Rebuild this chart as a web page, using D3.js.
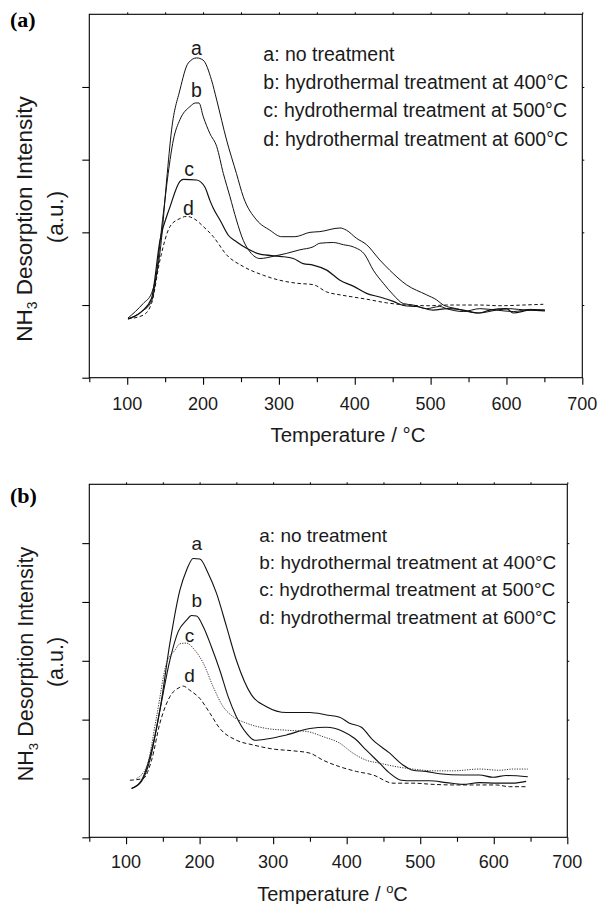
<!DOCTYPE html>
<html><head><meta charset="utf-8">
<script src="https://cdn.jsdelivr.net/npm/d3@7"></script>
<style>body{margin:0;background:#fff} svg{display:block}</style>
</head><body>
<svg id="chart" width="598" height="904"></svg>
<script>
// ---------- data ----------
const xTickValues = [100, 200, 300, 400, 500, 600, 700];
const xMinorValues = [150, 250, 350, 450, 550, 650];
const seriesNames = ["a", "b", "c", "d"];
const legendLabels = [
  "a: no treatment",
  "b: hydrothermal treatment at 400\u00B0C",
  "c: hydrothermal treatment at 500\u00B0C",
  "d: hydrothermal treatment at 600\u00B0C"
];

// Panel (a): [temperature °C, intensity a.u.]
const panelA_a = [[101,0.82],[121,1.02],[132,1.16],[145,1.89],[152,2.72],[158.5,3.41],[169.5,3.96],[180.5,4.33],[191.5,4.40],[200,4.37],[211,4.10],[218,3.82],[231,3.27],[244,2.81],[253,2.49],[270.6,2.17],[288,2.03],[303.6,1.94],[321,1.94],[341,2.00],[354,2.01],[380.5,2.06],[389,2.03],[402,1.92],[415.6,1.83],[433,1.62],[446,1.48],[468,1.28],[494.7,1.14],[508,1.07],[516.7,1.00],[534,0.95],[563,0.89],[587,0.93],[604.6,0.95],[626.6,0.93],[650.7,0.93]];
const panelA_b = [[101,0.81],[119,0.91],[132,1.05],[147.6,2.26],[154,2.81],[160.8,3.27],[169.5,3.55],[182.7,3.73],[190,3.78],[194.6,3.78],[200.3,3.59],[209,3.36],[218,3.18],[226.7,2.81],[235.5,2.49],[244,2.17],[253,1.89],[262,1.73],[275,1.64],[292.6,1.67],[310,1.71],[327.7,1.76],[345,1.80],[354,1.85],[371.7,1.86],[385,1.83],[398,1.80],[413.4,1.69],[424.4,1.48],[437.6,1.30],[450.8,1.14],[464,1.02],[477,1.00],[494.7,0.95],[512,0.98],[521,0.95],[543,0.91],[565,0.95],[587,0.93],[609,0.91],[631,0.94],[650.7,0.93]];
const panelA_c = [[101,0.81],[119,0.91],[132,1.09],[143.2,1.89],[156.4,2.35],[169.5,2.70],[174,2.73],[191.5,2.72],[202.5,2.62],[209,2.44],[213.5,2.33],[222.3,2.17],[233.3,1.96],[244,1.87],[257.4,1.78],[275,1.70],[301.4,1.67],[319,1.64],[332,1.57],[345,1.55],[363,1.48],[380.5,1.34],[398,1.26],[415.6,1.16],[433,1.11],[450.8,1.05],[466,0.99],[481.5,0.98],[503.5,0.93],[521,0.95],[543,0.93],[563,0.89],[578,0.93],[600,0.95],[609,0.89],[631,0.93],[650.7,0.92]];
const panelA_d = [[101,0.81],[121,0.86],[132,1.02],[143.2,1.62],[156.4,2.08],[169.5,2.19],[178.3,2.22],[189.3,2.18],[200.3,2.08],[213.5,1.94],[231,1.69],[253,1.53],[279.4,1.41],[301.4,1.34],[323.3,1.30],[345.3,1.28],[363,1.18],[380.5,1.14],[398,1.11],[415.6,1.08],[442,1.03],[468.4,1.00],[499,0.99],[521,1.00],[543,1.00],[565,1.00],[591.4,0.99],[622,1.00],[648.6,1.01]];

// Panel (b)
const panelB_a = [[107.5,0.83],[121,0.97],[132.4,1.37],[146,2.16],[159.6,3.30],[173.2,4.20],[182.2,4.54],[191.3,4.74],[200.3,4.73],[211.6,4.49],[222.9,4.15],[236.6,3.58],[250,3.01],[270.5,2.42],[291,2.22],[318,2.12],[350,2.12],[372.4,2.08],[390.5,2.04],[404,1.94],[420,1.87],[435.8,1.65],[458.5,1.43],[476.5,1.23],[490,1.14],[508,1.12],[526,1.08],[558,1.06],[580.7,1.06],[598.8,1.02],[617,1.05],[646.3,1.03]];
const panelB_b = [[107.5,0.83],[121,0.95],[132.4,1.31],[146,2.16],[159.6,3.01],[171,3.50],[182.2,3.69],[189,3.77],[195.8,3.76],[205,3.58],[216,3.24],[227.5,2.84],[238.8,2.39],[250,2.05],[263.7,1.77],[275,1.65],[291,1.67],[318,1.74],[350,1.85],[372.4,1.87],[395,1.80],[411,1.68],[426.7,1.48],[444.8,1.26],[458.5,1.09],[474.3,0.97],[490,0.96],[512.7,0.96],[535.4,0.93],[558,0.90],[580.7,0.93],[603.3,0.92],[626,0.92],[644,0.95]];
const panelB_c = [[114.3,1.00],[128,1.20],[141.5,2.05],[155,2.96],[166.4,3.18],[173.2,3.29],[182.2,3.30],[193.5,3.18],[205,2.96],[218.4,2.56],[232,2.22],[245.6,2.05],[263.7,1.94],[291,1.85],[318,1.82],[345,1.80],[368,1.71],[390.5,1.60],[408.6,1.43],[426.7,1.31],[444.8,1.26],[467.5,1.20],[490,1.16],[517.3,1.13],[544.5,1.13],[580.7,1.16],[607.8,1.14],[626,1.16],[646.3,1.16]];
const panelB_d = [[105.2,0.97],[123.4,1.00],[134.7,1.31],[146,1.94],[159.6,2.39],[173.2,2.55],[177.7,2.57],[186.7,2.50],[200.3,2.36],[214,2.11],[227.5,1.85],[250,1.65],[272.8,1.57],[300,1.50],[327,1.47],[350,1.43],[368,1.31],[390.5,1.20],[413,1.12],[435.8,1.06],[463,0.92],[490,0.92],[517.3,0.90],[544.5,0.89],[571.6,0.89],[603.3,0.89],[621.4,0.86],[646.3,0.86]];

// ---------- drawing ----------
const svg = d3.select("#chart");
const SANS = "'Liberation Sans', Arial, Helvetica, sans-serif";
const INK = "#1a1a1a";

const panels = [
  {
    tag: "(a)", tagX: 10, tagY: 27,
    left: 89.3, right: 582.3, top: 14.3, bottom: 377.7, yMax: 5, yTicks: [0,1,2,3,4],
    series: [panelA_a, panelA_b, panelA_c, panelA_d],
    styles: [
      {dash: null, color: "#111", w: 1},
      {dash: null, color: "#111", w: 1},
      {dash: null, color: "#111", w: 1.2},
      {dash: "3.5,2.5", color: "#111", w: 1}
    ],
    labels: [[196.5,55],[196.5,96.5],[189,176],[188.5,215]],
    labelSize: 19.5,
    legendX: 263.3, legendY: 61, legendStep: 28.2, legendSize: 19.5,
    tickLabelY: 410, tickSize: 18,
    xTitleX: 348, xTitleY: 441.5, xTitleSize: 20.5, superO: false,
    yTitleX1: 32, yTitleX2: 63, yTitleCY: 219, yTitleSize: 22.5
  },
  {
    tag: "(b)", tagX: 10, tagY: 503,
    left: 89.3, right: 567.3, top: 484.3, bottom: 837.3, yMax: 6, yTicks: [0,1,2,3,4,5],
    series: [panelB_a, panelB_b, panelB_c, panelB_d],
    styles: [
      {dash: null, color: "#111", w: 1.1},
      {dash: null, color: "#111", w: 1.1},
      {dash: "1.2,1.3", color: "#333", w: 1},
      {dash: "4,2.5", color: "#111", w: 1}
    ],
    labels: [[196.7,550],[196.7,606.5],[189.5,641.5],[189.5,681.5]],
    labelSize: 19,
    legendX: 259.3, legendY: 542, legendStep: 27.2, legendSize: 19,
    tickLabelY: 868.3, tickSize: 18,
    xTitleX: 332.5, xTitleY: 901, xTitleSize: 20, superO: true,
    yTitleX1: 33, yTitleX2: 63, yTitleCY: 664, yTitleSize: 21.5
  }
];

panels.forEach(p => {
  const g = svg.append("g");
  const x = d3.scaleLinear().domain([50, 700]).range([p.left, p.right]);
  const y = d3.scaleLinear().domain([0, p.yMax]).range([p.bottom, p.top]);

  // frame
  g.append("rect")
    .attr("x", p.left).attr("y", p.top)
    .attr("width", p.right - p.left).attr("height", p.bottom - p.top)
    .attr("fill", "none").attr("stroke", "#000").attr("stroke-width", 1.1);

  // bottom axis majors
  const bAxis = g.append("g").attr("transform", `translate(0,${p.bottom})`)
    .call(d3.axisBottom(x).tickValues(xTickValues).tickSize(7).tickSizeOuter(0).tickFormat(""));
  bAxis.select(".domain").remove();
  bAxis.selectAll("line").attr("stroke", "#000").attr("stroke-width", 1.1);
  // tick labels
  g.selectAll(".xlab").data(xTickValues).enter().append("text")
    .attr("x", d => x(d)).attr("y", p.tickLabelY)
    .attr("text-anchor", "middle").attr("font-family", SANS).attr("font-size", p.tickSize)
    .attr("fill", INK).text(d => d);
  // bottom minor
  const bMinor = g.append("g").attr("transform", `translate(0,${p.bottom})`)
    .call(d3.axisBottom(x).tickValues(xMinorValues.concat([50])).tickSize(4.5).tickSizeOuter(0).tickFormat(""));
  bMinor.select(".domain").remove();
  bMinor.selectAll("line").attr("stroke", "#000").attr("stroke-width", 1.1);
  // top ticks (small, outward)
  const tAxis = g.append("g").attr("transform", `translate(0,${p.top})`)
    .call(d3.axisTop(x).tickValues(xTickValues.concat(xMinorValues)).tickSize(2).tickSizeOuter(0).tickFormat(""));
  tAxis.select(".domain").remove();
  tAxis.selectAll("line").attr("stroke", "#000");

  // left ticks
  const lAxis = g.append("g").attr("transform", `translate(${p.left},0)`)
    .call(d3.axisLeft(y).tickValues(p.yTicks).tickSize(7).tickSizeOuter(0).tickFormat(""));
  lAxis.select(".domain").remove();
  lAxis.selectAll("line").attr("stroke", "#000").attr("stroke-width", 1.1);
  // right ticks
  const rAxis = g.append("g").attr("transform", `translate(${p.right},0)`)
    .call(d3.axisRight(y).tickValues(p.yTicks.filter(v => v > 0)).tickSize(2).tickSizeOuter(0).tickFormat(""));
  rAxis.select(".domain").remove();
  rAxis.selectAll("line").attr("stroke", "#000");

  // curves
  const line = d3.line().x(d => x(d[0])).y(d => y(d[1])).curve(d3.curveMonotoneX);
  p.series.forEach((s, i) => {
    const st = p.styles[i];
    g.append("path").datum(s).attr("d", line)
      .attr("fill", "none").attr("stroke", st.color).attr("stroke-width", st.w)
      .attr("stroke-linejoin", "round")
      .attr("stroke-dasharray", st.dash);
  });

  // curve letters
  g.selectAll(".clab").data(seriesNames).enter().append("text")
    .attr("x", (d, i) => p.labels[i][0]).attr("y", (d, i) => p.labels[i][1])
    .attr("text-anchor", "middle").attr("font-family", SANS).attr("font-size", p.labelSize)
    .attr("fill", INK).text(d => d);

  // legend
  g.selectAll(".leg").data(legendLabels).enter().append("text")
    .attr("x", p.legendX).attr("y", (d, i) => p.legendY + i * p.legendStep)
    .attr("font-family", SANS).attr("font-size", p.legendSize).attr("fill", INK)
    .text(d => d);

  // x title
  const xt = g.append("text").attr("x", p.xTitleX).attr("y", p.xTitleY)
    .attr("text-anchor", "middle").attr("font-family", SANS).attr("font-size", p.xTitleSize).attr("fill", INK);
  if (p.superO) {
    xt.append("tspan").text("Temperature / ");
    xt.append("tspan").attr("dy", -8).attr("font-size", p.xTitleSize * 0.65).text("o");
    xt.append("tspan").attr("dy", 8).text("C");
  } else {
    xt.text("Temperature / \u00B0C");
  }

  // y title
  const yt = g.append("text").attr("transform", `translate(${p.yTitleX1},${p.yTitleCY}) rotate(-90)`)
    .attr("text-anchor", "middle").attr("font-family", SANS).attr("font-size", p.yTitleSize).attr("fill", INK);
  yt.append("tspan").text("NH");
  yt.append("tspan").attr("dy", 5).attr("font-size", p.yTitleSize * 0.62).text("3");
  yt.append("tspan").attr("dy", -5).text(" Desorption Intensity");
  g.append("text").attr("transform", `translate(${p.yTitleX2},${p.yTitleCY - 2}) rotate(-90)`)
    .attr("text-anchor", "middle").attr("font-family", SANS).attr("font-size", p.yTitleSize).attr("fill", INK)
    .text("(a.u.)");

  // panel tag
  g.append("text").attr("x", p.tagX).attr("y", p.tagY)
    .attr("font-family", "'Liberation Serif', 'Times New Roman', serif").attr("font-weight", "bold")
    .attr("font-size", 22).attr("fill", "#000").text(p.tag);
});
</script>
</body></html>
